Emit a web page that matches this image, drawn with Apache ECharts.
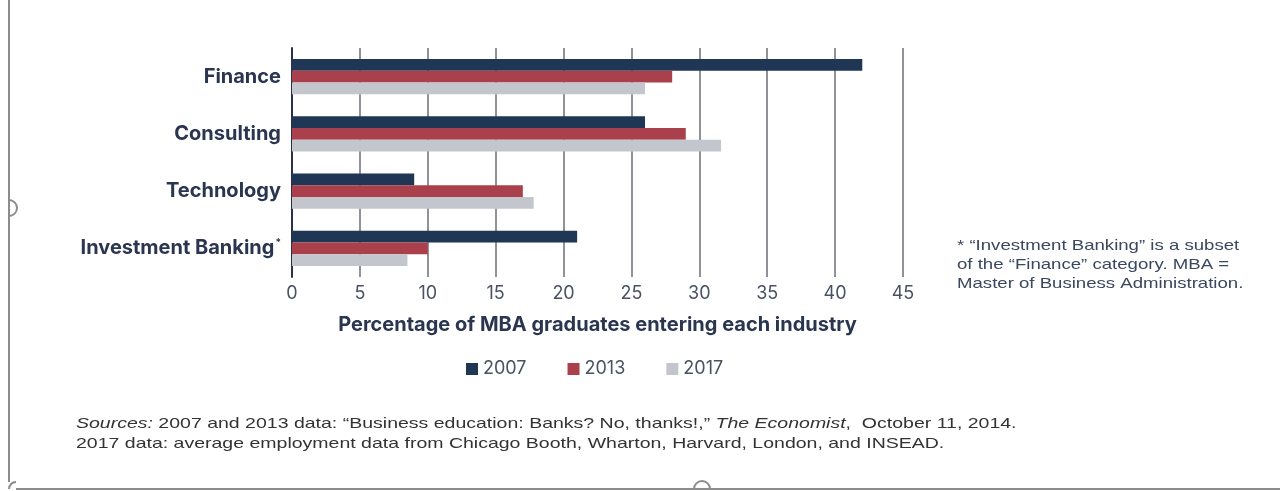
<!DOCTYPE html>
<html>
<head>
<meta charset="utf-8">
<script src="https://cdn.jsdelivr.net/npm/echarts@6/dist/echarts.min.js"></script>
<style>
  html, body { margin: 0; padding: 0; background: #ffffff; }
  #chart { width: 1280px; height: 491px; }
</style>
</head>
<body>
<div id="chart"></div>
<script>
// Industries, top to bottom
const categories = ['Finance', 'Consulting', 'Technology', 'Investment Banking'];
// Share of MBA graduates (%) entering each industry
const years = ['2007', '2013', '2017'];
const values2007 = [42, 26, 9, 21];
const values2013 = [28, 29, 17, 10];
const values2017 = [26, 31.6, 17.8, 8.5];
const xTicks = [0, 5, 10, 15, 20, 25, 30, 35, 40, 45];

const colors = ['#1f3654', '#a9404b', '#c3c6cc'];
const navy = '#2a3550';
const sans = 'Inter, "Open Sans", sans-serif';

const chart = echarts.init(document.getElementById('chart'), null, { renderer: 'canvas' });

const seriesData = [values2007, values2013, values2017];

const option = {
  animation: false,
  backgroundColor: '#ffffff',
  grid: { left: 292, right: 377, top: 48, bottom: 214, containLabel: false },
  legend: {
    data: years,
    top: 355,
    left: 461,
    itemGap: 41,
    itemWidth: 12,
    itemHeight: 12,
    icon: 'rect',
    textStyle: {
      fontFamily: sans,
      fontSize: 18,
      color: '#4a5262',
      width: 45,
      overflow: 'none'
    }
  },
  xAxis: {
    type: 'value',
    min: xTicks[0],
    max: xTicks[xTicks.length - 1],
    interval: 5,
    name: 'Percentage of MBA graduates entering each industry',
    nameLocation: 'middle',
    nameGap: 38,
    nameTextStyle: {
      fontFamily: sans,
      fontWeight: 'bold',
      fontSize: 20,
      color: navy
    },
    axisLine: { show: false },
    axisTick: { show: false },
    axisLabel: {
      margin: 8,
      fontFamily: sans,
      fontSize: 18,
      color: '#4a5262'
    },
    splitLine: { show: true, lineStyle: { color: '#6a6e76', width: 1.5 } }
  },
  yAxis: {
    type: 'category',
    data: categories,
    inverse: true,
    axisLine: { show: true, lineStyle: { color: '#2b3245', width: 2 } },
    axisTick: { show: false },
    axisLabel: {
      margin: 11,
      fontFamily: sans,
      fontWeight: 'bold',
      fontSize: 20,
      color: navy,
      formatter: function (v) {
        return v === 'Investment Banking' ? '{b|' + v + '}{s|*}' : '{b|' + v + '}';
      },
      rich: {
        b: { fontFamily: sans, fontWeight: 'bold', fontSize: 20, color: navy },
        s: { fontFamily: sans, fontSize: 10, color: navy, verticalAlign: 'top', padding: [0, 0, 10, 1] }
      }
    }
  },
  series: years.map(function (y, i) {
    return {
      name: y,
      type: 'bar',
      data: seriesData[i],
      barGap: '0%',
      barCategoryGap: '38%',
      itemStyle: { color: colors[i] },
      emphasis: { disabled: true }
    };
  }),
  graphic: [
    // slide frame and selection handles
    { type: 'line', shape: { x1: 9, y1: 0, x2: 9, y2: 482 }, style: { stroke: '#8c8c8c', lineWidth: 2 } },
    { type: 'line', shape: { x1: 16, y1: 489, x2: 1280, y2: 489 }, style: { stroke: '#8c8c8c', lineWidth: 2 } },
    { type: 'arc', shape: { cx: 16, cy: 489, r: 7, startAngle: Math.PI, endAngle: Math.PI * 1.5 }, style: { stroke: '#8c8c8c', lineWidth: 2, fill: null } },
    { type: 'arc', shape: { cx: 9, cy: 208, r: 8, startAngle: -Math.PI / 2, endAngle: Math.PI / 2 }, style: { stroke: '#8c8c8c', lineWidth: 2, fill: null } },
    { type: 'arc', shape: { cx: 702, cy: 489, r: 8, startAngle: Math.PI, endAngle: Math.PI * 2 }, style: { stroke: '#8c8c8c', lineWidth: 2, fill: null } },
    // footnote (set in a widened sans)
    {
      type: 'text', x: 957, y: 236, scaleX: 1.24, scaleY: 1,
      style: {
        text: '* \u201CInvestment Banking\u201D is a subset\nof the \u201CFinance\u201D category. MBA =\nMaster of Business Administration.',
        font: '15px "Liberation Sans", Arial, sans-serif',
        fill: '#3b4660',
        lineHeight: 19
      }
    },
    // sources (set in a widened sans)
    {
      type: 'text', x: 76, y: 414, scaleX: 1.3, scaleY: 1,
      style: {
        text: '{i|Sources:} 2007 and 2013 data: \u201CBusiness education: Banks? No, thanks!,\u201D {i|The Economist},  October 11, 2014.\n2017 data: average employment data from Chicago Booth, Wharton, Harvard, London, and INSEAD.',
        font: '15px "Liberation Sans", Arial, sans-serif',
        fill: '#333333',
        lineHeight: 20,
        rich: {
          i: { fontStyle: 'italic', fontSize: 15, fontFamily: '"Liberation Sans", Arial, sans-serif', fill: '#333333' }
        }
      }
    }
  ]
};

chart.setOption(option);
</script>
</body>
</html>
